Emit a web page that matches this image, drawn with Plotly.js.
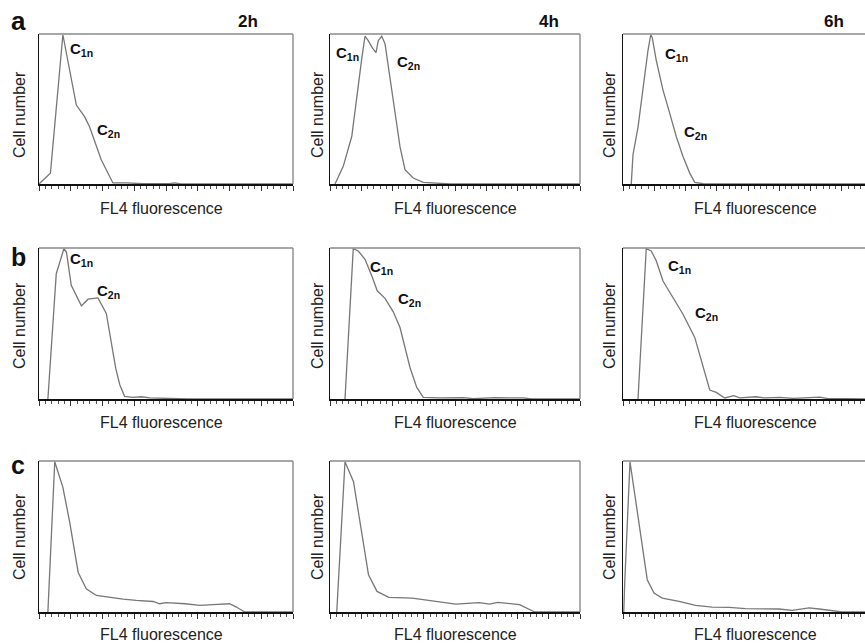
<!DOCTYPE html>
<html><head><meta charset="utf-8">
<script src="https://cdn.plot.ly/plotly-3.0.1.min.js"></script>
<style>html,body{margin:0;padding:0;background:#fff}</style>
</head><body><div id="chart" style="width:865px;height:644px"></div>
<script>
// ---- data (x: % of fluorescence axis, y: % of peak cell number) ----
const rowLetters = ["a", "b", "c"];
const timeLabels = ["2h", "4h", "6h"];
const xTitle = "FL4 fluorescence";
const yTitle = "Cell number";
const peakLabel1 = "C<sub>1n</sub>";
const peakLabel2 = "C<sub>2n</sub>";

const a2_x = [0, 4.5, 9.4, 14.7, 18, 19.9, 24.5, 29.1, 34.4, 41, 51.4, 53.4, 56, 100];
const a2_y = [0, 7.3, 100, 52.9, 45, 38.4, 16.2, 0.7, 0.7, 0.2, 0.2, 0.7, 0, 0];

const a4_x = [2, 5.3, 8.7, 11.3, 12.7, 14, 15.3, 17, 18.4, 19.3, 20.7, 22, 24, 26, 28, 30, 33.3, 37.3, 42.7, 48, 100];
const a4_y = [0, 11.8, 31.8, 67, 84, 99, 96, 91, 88, 96, 99, 94, 72, 50, 25, 9.6, 4, 1.1, 0.7, 0, 0];

const a6_x = [3.3, 4, 6, 8, 10, 11.1, 11.7, 13.3, 16, 18.7, 21.3, 24, 26.7, 28.7, 32, 35, 100];
const a6_y = [0, 19.6, 38, 65, 89.6, 100, 98, 82.9, 62.9, 47.3, 31.8, 18.4, 7.3, 1.1, 0.2, 0, 0];

const b2_x = [3.5, 6.8, 9.8, 10.8, 12.7, 16.7, 19.3, 23.2, 26.5, 28.5, 30.2, 31.8, 33.7, 37, 40.3, 43.6, 50, 56.7, 58.7, 100];
const b2_y = [0, 83.4, 100, 97.8, 75.7, 62, 66.4, 67.3, 57, 38.2, 20.5, 9.5, 1.8, 1.1, 1.5, 0.7, 0.4, 0.4, 0, 0];

const b4_x = [6, 9.3, 11.3, 14, 16.7, 18.9, 22, 25.3, 28, 30, 32, 34.7, 37.3, 44, 53.3, 57.3, 66, 77.3, 80.7, 100];
const b4_y = [0, 100, 98.5, 93, 82, 72, 67, 58, 47.6, 34.3, 21, 7.7, 1.1, 0.7, 0.9, 0.2, 0.9, 0.7, 0, 0];

const b6_x = [6, 9.3, 11.3, 13.3, 16, 20, 24, 28.7, 32, 34.7, 37.3, 40.7, 44.3, 46.7, 53.3, 56.7, 62.7, 68, 78.7, 82, 89, 100];
const b6_y = [0, 100, 98.5, 92, 78.5, 67.5, 56.4, 41, 21, 6, 4.4, 0.7, 2.2, 0.7, 1.5, 0.7, 1.1, 0.4, 1.3, 0.2, 0.2, 0];

const c2_x = [3.5, 6.2, 9.4, 12.1, 15.4, 18.6, 22.6, 27.8, 33.1, 38.3, 44.9, 47.5, 50.1, 57.5, 63.3, 68.5, 75, 77.7, 81, 100];
const c2_y = [0, 100, 83, 59.7, 26.5, 15.5, 11, 9.7, 8.6, 7.7, 7, 5.5, 6.2, 5.5, 4.4, 4.9, 5.5, 3.3, 0, 0];

const c4_x = [2.7, 6, 9.4, 12.1, 15.4, 18.8, 23.5, 32.9, 40.9, 50.3, 59.7, 63.8, 67.1, 75.8, 81.9, 100];
const c4_y = [0, 100, 86.7, 58, 24.8, 13.7, 9.7, 9.3, 7.5, 5.3, 6.2, 5.3, 6.4, 4.9, 0, 0];

const c6_x = [0.3, 0.7, 2.8, 6.4, 9.7, 12.4, 15.7, 22.4, 29, 35.7, 42.4, 49, 62.4, 67.7, 74.4, 78.4, 83.7, 87.7, 100];
const c6_y = [0, 20, 100, 58, 21.5, 12.6, 9.3, 7, 4.4, 3.3, 3.1, 2.2, 2, 1.1, 2.7, 2, 1.1, 0, 0];

const series = [[a2_x, a2_y], [a4_x, a4_y], [a6_x, a6_y],
                [b2_x, b2_y], [b4_x, b4_y], [b6_x, b6_y],
                [c2_x, c2_y], [c4_x, c4_y], [c6_x, c6_y]];

// ---- layout geometry (pixels) ----
const W = 865, H = 644;
const colPx = [[39, 293], [330, 580], [623, 865]];
const rowPx = [[34, 184], [248, 399], [461, 612]];
const px = x => x / W;
const py = y => 1 - y / H;

const FONT = "Liberation Sans, Arial, sans-serif";
const traces = [];
const layout = {
  width: W, height: H,
  margin: {l: 0, r: 0, t: 0, b: 0},
  paper_bgcolor: "#ffffff", plot_bgcolor: "#ffffff",
  showlegend: false,
  font: {family: FONT, color: "#222"},
  annotations: [], shapes: []
};

for (let r = 0; r < 3; r++) {
  for (let c = 0; c < 3; c++) {
    const i = r * 3 + c;
    const n = i + 1;
    const xa = "xaxis" + (n === 1 ? "" : n), ya = "yaxis" + (n === 1 ? "" : n);
    const xr = "x" + (n === 1 ? "" : n), yr = "y" + (n === 1 ? "" : n);
    traces.push({
      x: series[i][0], y: series[i][1], type: "scatter", mode: "lines",
      xaxis: xr, yaxis: yr, line: {color: "#777777", width: 1.3},
      hoverinfo: "skip"
    });
    const xmax = c === 2 ? (colPx[2][1] - colPx[2][0]) / 250 * 100 : 100;
    layout[xa] = {
      domain: [px(colPx[c][0]), px(colPx[c][1])],
      anchor: yr, range: [0, xmax], showgrid: false, zeroline: false,
      showline: true, linecolor: "#111", linewidth: 1.5,
      ticks: "outside", ticklen: 5, tickwidth: 1, tickcolor: "#333",
      tick0: 0, dtick: 12.5, showticklabels: false,
      minor: {ticks: "outside", ticklen: 3, tickwidth: 1, tickcolor: "#555", dtick: 2.5, showgrid: false},
      fixedrange: true
    };
    layout[ya] = {
      domain: [py(rowPx[r][1]), py(rowPx[r][0])],
      anchor: xr, range: [0, 100.5], showgrid: false, zeroline: false,
      showline: true, linecolor: "#111", linewidth: 1.5,
      ticks: "", showticklabels: false, fixedrange: true
    };
    // grey top and right frame lines
    layout.shapes.push({type: "line", xref: xr + " domain", yref: yr + " domain",
      x0: 0, x1: 1, y0: 1, y1: 1, line: {color: "#8a8a8a", width: 1.6}});
    if (c < 2) {
      layout.shapes.push({type: "line", xref: xr + " domain", yref: yr + " domain",
        x0: 1, x1: 1, y0: 0, y1: 1, line: {color: "#8a8a8a", width: 1.4}});
    }
    // axis titles
    const xc = [161, 455, 755][c];
    const xy = [209, 422, 634][r];
    layout.annotations.push({text: xTitle, xref: "paper", yref: "paper",
      x: px(xc), y: py(xy), xanchor: "center", yanchor: "middle", showarrow: false,
      font: {size: 16, color: "#222", family: FONT}});
    const yc = [19, 317, 609][c];
    const yy = [115, 326, 537][r];
    layout.annotations.push({text: yTitle, xref: "paper", yref: "paper", textangle: -90,
      x: px(yc), y: py(yy), xanchor: "center", yanchor: "middle", showarrow: false,
      font: {size: 16, color: "#222", family: FONT}});
  }
}

// row letters
const letterPos = [[18, 21, 26], [18, 257, 25], [18, 465, 25]];
rowLetters.forEach((t, r) => {
  layout.annotations.push({text: "<b>" + t + "</b>", xref: "paper", yref: "paper",
    x: px(letterPos[r][0]), y: py(letterPos[r][1]), xanchor: "center", yanchor: "middle",
    showarrow: false, font: {size: letterPos[r][2], color: "#111", family: FONT}});
});
// time labels
const timeX = [248, 549, 834];
timeLabels.forEach((t, c) => {
  layout.annotations.push({text: "<b>" + t + "</b>", xref: "paper", yref: "paper",
    x: px(timeX[c]), y: py(21), xanchor: "center", yanchor: "middle",
    showarrow: false, font: {size: 17, color: "#111", family: FONT}});
});
// peak labels (rows a and b)
const peakPos = [
  [[68, 49], [95, 130]], [[334, 53], [395, 62]], [[663, 55], [682, 132]],
  [[68, 259], [95, 291]], [[368, 267], [396, 299]], [[666, 266], [693, 313]]
];
peakPos.forEach(p => {
  [peakLabel1, peakLabel2].forEach((lab, k) => {
    layout.annotations.push({text: "<b>" + lab + "</b>", xref: "paper", yref: "paper",
      x: px(p[k][0]), y: py(p[k][1]), xanchor: "left", yanchor: "middle",
      showarrow: false, font: {size: 15, color: "#111", family: FONT}});
  });
});

Plotly.newPlot("chart", traces, layout, {staticPlot: true, displayModeBar: false});
</script>
</body></html>
